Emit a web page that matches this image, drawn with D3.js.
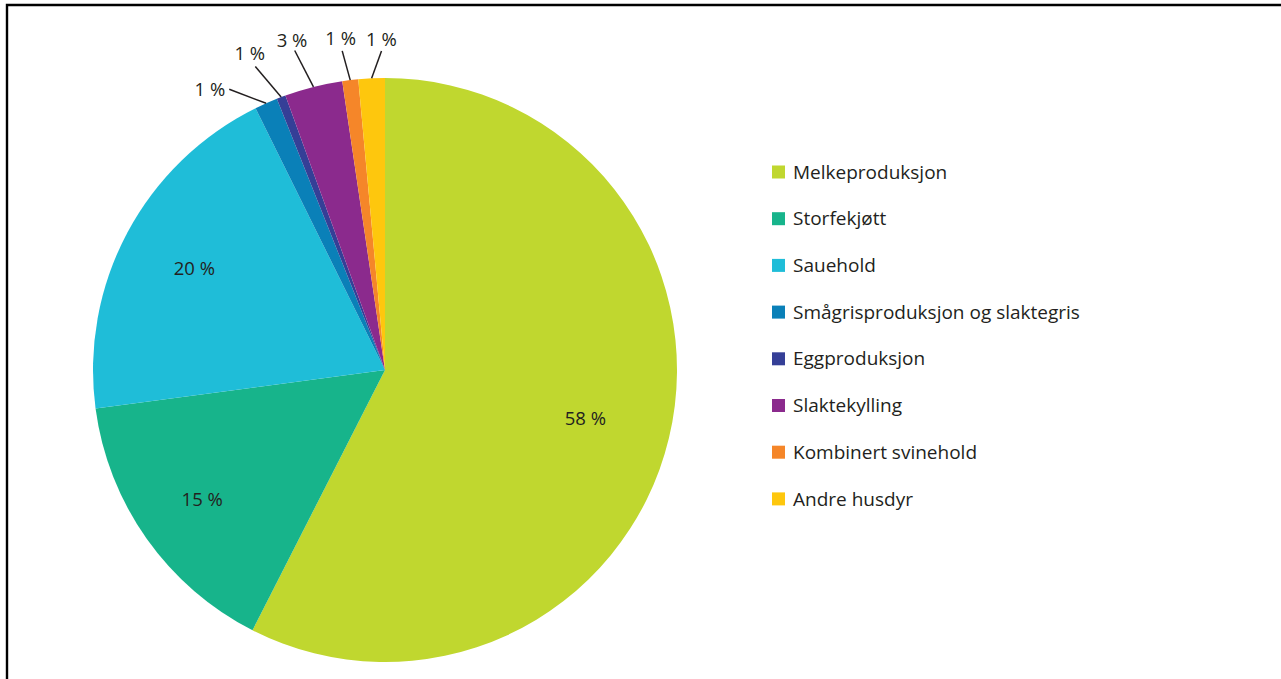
<!DOCTYPE html>
<html>
<head>
<meta charset="utf-8">
<script src="https://cdn.jsdelivr.net/npm/d3@7"></script>
<style>
  html, body { margin: 0; padding: 0; background: #fff; }
  svg { display: block; font-family: "Open Sans", "Noto Sans", sans-serif; }
</style>
</head>
<body>
<svg id="chart" width="1281" height="679"></svg>
<script>
// data (shares in %)
var categories = ["Melkeproduksjon", "Storfekjøtt", "Sauehold", "Smågrisproduksjon og slaktegris",
                  "Eggproduksjon", "Slaktekylling", "Kombinert svinehold", "Andre husdyr"];
var shares = [57.5, 15.4, 19.8, 1.27, 0.5, 3.2, 0.88, 1.46];
var labels = ["58 %", "15 %", "20 %", "1 %", "1 %", "3 %", "1 %", "1 %"];
var colors = ["#c0d72f", "#17b48b", "#1fbdd8", "#0a80b8", "#353f97", "#8b2a8d", "#f58629", "#fec70d"];

// label layout: inside radius for big slices, leader line nudges for small ones
var outside = [false, false, false, true, true, true, true, true];
var insideRadius = [206, 224, 216, 0, 0, 0, 0, 0];
var leaderShift = [0, 0, 0, -5, -2.3, -1.6, -0.8, 2];   // degrees
var leaderLen = [0, 0, 0, 29, 38, 40, 30, 27];
var textGap = [0, 0, 0, 0, 14, 10, 12, 12];

var svg = d3.select("#chart");
var cx = 385, cy = 370, R = 292;
var labelSize = 18.5;

// frame
svg.append("path")
  .attr("d", "M7,679 V5 H1281")
  .attr("fill", "none").attr("stroke", "#000").attr("stroke-width", 2.4);

var pie = d3.pie().sort(null).value(function(d) { return d; });
var arcs = pie(shares);
var arc = d3.arc().innerRadius(0).outerRadius(R);

var g = svg.append("g").attr("transform", "translate(" + cx + "," + cy + ")");

g.selectAll("path.slice").data(arcs).enter().append("path")
  .attr("class", "slice")
  .attr("d", arc)
  .attr("fill", function(d, i) { return colors[i]; });

function polar(deg, r) {
  var a = deg * Math.PI / 180;
  return [r * Math.sin(a), -r * Math.cos(a)];
}

arcs.forEach(function(d, i) {
  var mid = (d.startAngle + d.endAngle) / 2 * 180 / Math.PI;
  if (!outside[i]) {
    var c = polar(mid, insideRadius[i]);
    g.append("text")
      .attr("x", c[0]).attr("y", c[1])
      .attr("text-anchor", "middle").attr("dy", "0.35em")
      .attr("font-size", labelSize).attr("fill", "#231f20")
      .text(labels[i]);
    return;
  }
  var p0 = polar(mid, R);
  var p1 = polar(mid + leaderShift[i], R + leaderLen[i]);
  g.append("line")
    .attr("x1", p0[0]).attr("y1", p0[1])
    .attr("x2", p1[0]).attr("y2", p1[1])
    .attr("stroke", "#231f20").attr("stroke-width", 1.5);
  var t = g.append("text")
    .attr("font-size", labelSize).attr("fill", "#231f20").text(labels[i]);
  if (textGap[i] === 0) {
    t.attr("x", p1[0] - 4).attr("y", p1[1]).attr("dy", "0.35em").attr("text-anchor", "end");
  } else {
    var p2 = polar(mid + leaderShift[i], R + leaderLen[i] + textGap[i]);
    t.attr("x", p2[0]).attr("y", p2[1]).attr("dy", "0.35em").attr("text-anchor", "middle");
  }
});

// legend
var legend = svg.append("g").attr("transform", "translate(772,172)");
var rows = legend.selectAll("g").data(categories).enter().append("g")
  .attr("transform", function(d, i) { return "translate(0," + (i * 46.7) + ")"; });
rows.append("rect")
  .attr("x", 0).attr("y", -6.5).attr("width", 13).attr("height", 13)
  .attr("fill", function(d, i) { return colors[i]; });
rows.append("text")
  .attr("x", 21).attr("dy", "0.35em")
  .attr("font-size", 19).attr("fill", "#231f20")
  .text(function(d) { return d; });
</script>
</body>
</html>
